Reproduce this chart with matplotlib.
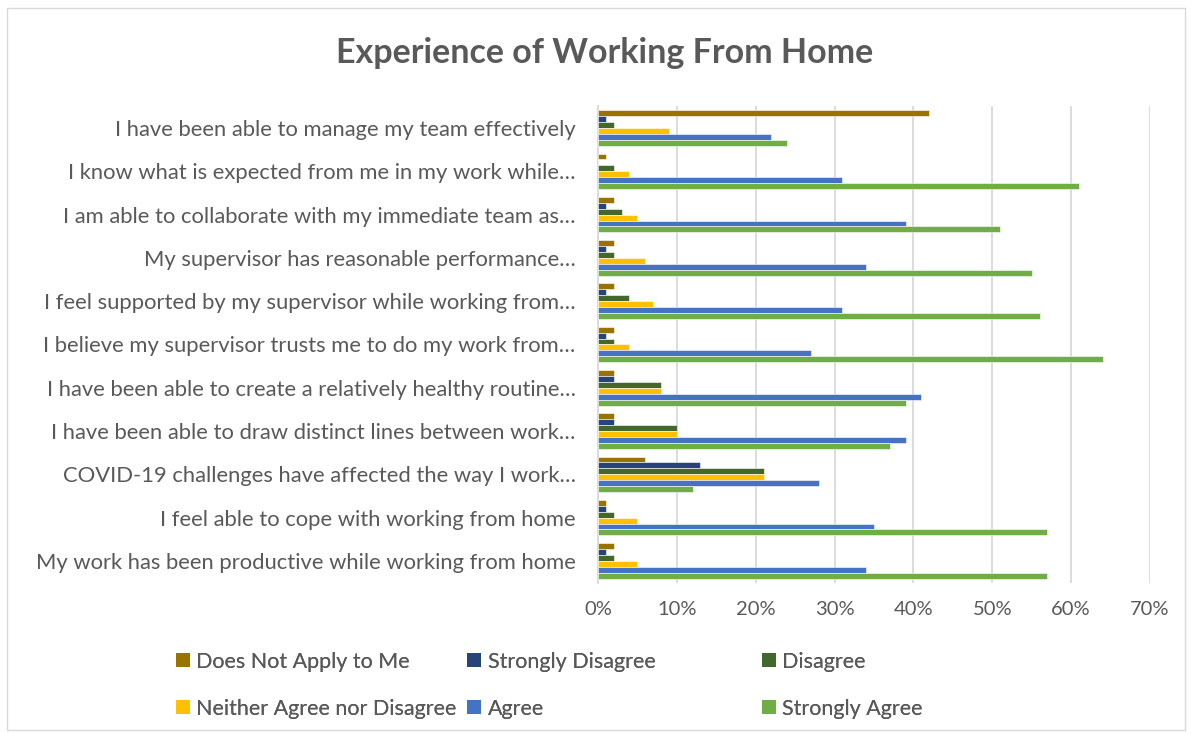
import matplotlib
matplotlib.use("Agg")
import matplotlib.pyplot as plt
import numpy as np
from matplotlib.patches import Rectangle, Patch
from matplotlib.ticker import FuncFormatter, MultipleLocator

plt.rcParams['font.family'] = ['Lato', 'DejaVu Sans']

categories = [
    "I have been able to manage my team effectively",
    "I know what is expected from me in my work while\u2026",
    "I am able to collaborate with my immediate team as\u2026",
    "My supervisor has reasonable performance\u2026",
    "I feel supported by my supervisor while working from\u2026",
    "I believe my supervisor trusts me to do my work from\u2026",
    "I have been able to create a relatively healthy routine\u2026",
    "I have been able to draw distinct lines between work\u2026",
    "COVID-19 challenges have affected the way I work\u2026",
    "I feel able to cope with working from home",
    "My work has been productive while working from home",
]

series_names = ["Does Not Apply to Me", "Strongly Disagree", "Disagree",
                "Neither Agree nor Disagree", "Agree", "Strongly Agree"]

does_not_apply = [42, 1, 2, 2, 2, 2, 2, 2, 6, 1, 2]
strongly_disagree = [1, 0, 1, 1, 1, 1, 2, 2, 13, 1, 1]
disagree = [2, 2, 3, 2, 4, 2, 8, 10, 21, 2, 2]
neither = [9, 4, 5, 6, 7, 4, 8, 10, 21, 5, 5]
agree = [22, 31, 39, 34, 31, 27, 41, 39, 28, 35, 34]
strongly_agree = [24, 61, 51, 55, 56, 64, 39, 37, 12, 57, 57]

series_values = [does_not_apply, strongly_disagree, disagree, neither, agree, strongly_agree]
colors = ["#997300", "#264478", "#43682B", "#FFC000", "#4472C4", "#70AD47"]

text_color = "#595959"

fig = plt.figure(figsize=(11.91, 7.34), dpi=100)
ax = fig.add_axes([0.502, 0.2064, 0.4636, 0.6486])

n = len(categories)
y = np.arange(n)
bh = 0.137
for i, (vals, c) in enumerate(zip(series_values, colors)):
    offs = (i - 2.5) * bh
    ax.barh(y + offs, np.array(vals) / 100.0, height=bh, color=c,
            edgecolor="white", linewidth=0.4, zorder=3)

ax.set_ylim(n - 0.5, -0.5)
ax.set_xlim(0, 0.7)
ax.xaxis.set_major_locator(MultipleLocator(0.1))
ax.xaxis.set_major_formatter(FuncFormatter(lambda v, p: f"{v*100:.0f}%"))
ax.set_yticks(y)
ax.set_yticklabels(categories)
ax.tick_params(axis='y', length=0, pad=16, labelsize=15.8, labelcolor=text_color)
ax.tick_params(axis='x', length=0, pad=13, labelsize=14.5, labelcolor=text_color)
ax.grid(axis='x', color="#d9d9d9", linewidth=1.3, zorder=0)
for s in ["top", "right", "bottom"]:
    ax.spines[s].set_visible(False)
ax.spines["left"].set_color("#d9d9d9")
ax.spines["left"].set_linewidth(1.3)

fig.text(0.5075, 0.928, "Experience of Working From Home", ha="center", va="center",
         fontsize=24.5, fontweight="bold", color=text_color)

# legends: three columns
col_x = [0.1475, 0.3925, 0.6395]
cols = [[0, 3], [1, 4], [2, 5]]
for cx, idxs in zip(col_x, cols):
    handles = [Patch(facecolor=colors[k], edgecolor='none') for k in idxs]
    labels = [series_names[k] for k in idxs]
    leg = fig.legend(handles, labels, loc="upper left", bbox_to_anchor=(cx, 0.112),
                     frameon=False, fontsize=15.5, labelcolor=text_color,
                     handlelength=0.65, handleheight=0.65, handletextpad=0.3,
                     labelspacing=1.25, borderaxespad=0, borderpad=0)
    fig.add_artist(leg)

fig.patches.append(Rectangle((0.006, 0.005), 0.989, 0.984, transform=fig.transFigure,
                             fill=False, edgecolor="#d9d9d9", linewidth=1.0))

fig.savefig("out.png", dpi=100)
